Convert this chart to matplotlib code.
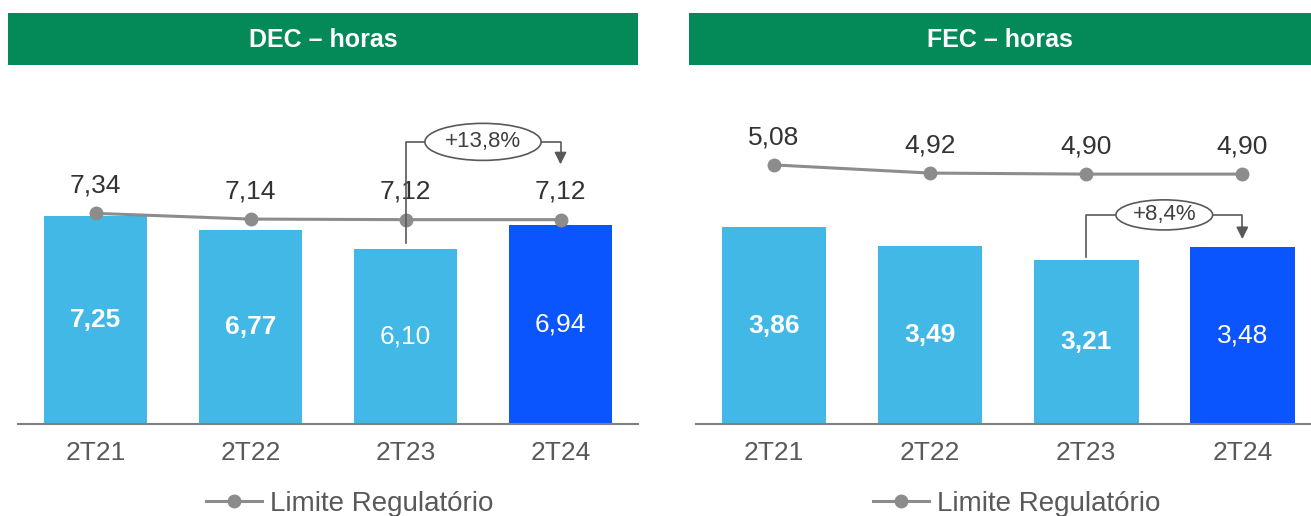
#!/usr/bin/env python3

import matplotlib
matplotlib.use('agg')
import matplotlib.pyplot as plt
from matplotlib.patches import Rectangle, Ellipse

plt.rcParams['font.family'] = ['Liberation Sans', 'DejaVu Sans']

periods = ["2T21", "2T22", "2T23", "2T24"]

dec_values = [7.25, 6.77, 6.10, 6.94]
dec_limit = [7.34, 7.14, 7.12, 7.12]
dec_bold = [True, True, False, False]
dec_change = "+13,8%"

fec_values = [3.86, 3.49, 3.21, 3.48]
fec_limit = [5.08, 4.92, 4.90, 4.90]
fec_bold = [True, True, True, False]
fec_change = "+8,4%"

W, H = 1311, 516
GREEN = '#038a58'
LIGHT = '#41b8e6'
DARK = '#0a55fd'
LINE = '#8c8c8c'
TXT = '#595959'


def fmt(v):
    return f"{v:.2f}".replace('.', ',')


def px(x0, y0, w, h):
    # pixel box (top-left origin) -> figure fraction
    return [x0 / W, (H - y0 - h) / H, w / W, h / H]


def header(fig, x0, w, title):
    fig.add_artist(Rectangle((x0 / W, (H - 65) / H), w / W, 52 / H,
                             transform=fig.transFigure, color=GREEN, lw=0))
    fig.text((x0 + w / 2) / W, (H - 40) / H, title, color='white',
             fontsize=18, fontweight='bold', ha='center', va='center')


def panel(fig, rect, xmax, ymax, values, limit, bold, change, ann, legend_x):
    ax = fig.add_axes(rect)
    x = list(range(len(periods)))
    colors = [LIGHT] * (len(values) - 1) + [DARK]
    ax.bar(x, values, width=0.67, color=colors, zorder=1)

    for i, v in enumerate(values):
        ax.text(i, v / 2, fmt(v), color='white', fontsize=19, ha='center', va='center',
                fontweight='bold' if bold[i] else 'normal', zorder=3)

    line, = ax.plot(x, limit, color=LINE, lw=2.2, marker='o', markersize=9,
                    label='Limite Regulatório', zorder=2)
    for i, v in enumerate(limit):
        ax.annotate(fmt(v), (i, v), xytext=(0, 15), textcoords='offset points',
                    ha='center', va='baseline', fontsize=19, color='#333333')

    # change bracket between the last two periods
    y_top, y_start, y_tip, ew, eh = ann
    ax.plot([2, 2, 2.5 - ew / 2], [y_start, y_top, y_top], color=TXT, lw=1.2, zorder=4)
    ax.plot([2.5 + ew / 2, 3, 3], [y_top, y_top, y_tip + 0.3], color=TXT, lw=1.2, zorder=4)
    ax.annotate('', xy=(3, y_tip), xytext=(3, y_tip + 0.35),
                arrowprops=dict(arrowstyle='-|>', color=TXT, lw=1.2, mutation_scale=18))
    ax.add_patch(Ellipse((2.5, y_top), ew, eh, facecolor='white', edgecolor=TXT, lw=1.2, zorder=5))
    ax.text(2.5, y_top, change, ha='center', va='center', fontsize=16, color='#404040', zorder=6)

    ax.set_xlim(-0.5, xmax)
    ax.set_ylim(0, ymax)
    ax.set_xticks(x)
    ax.set_xticklabels(periods, fontsize=19, color=TXT)
    ax.tick_params(axis='x', length=0, pad=12)
    ax.set_yticks([])
    for s in ['top', 'left', 'right']:
        ax.spines[s].set_visible(False)
    ax.spines['bottom'].set_color('#808080')
    ax.spines['bottom'].set_linewidth(1.5)

    ax.legend(handles=[line], loc='center', bbox_to_anchor=(legend_x / W, 12 / H),
              bbox_transform=fig.transFigure, frameon=False, fontsize=20,
              handlelength=2.0, handletextpad=0.3, labelcolor=TXT)
    return ax


def main():
    fig = plt.figure(figsize=(W / 100, H / 100), dpi=100)

    header(fig, 8, 630, "DEC – horas")
    header(fig, 689, 622, "FEC – horas")

    panel(fig, px(18, 80, 620, 344), 3.5, 344 / 28.7,
          dec_values, dec_limit, dec_bold, dec_change,
          (9.83, 6.31, 8.95, 0.75, 1.29), 350)
    panel(fig, px(696, 80, 615, 344), 3.44, 344 / 51.0,
          fec_values, fec_limit, fec_bold, fec_change,
          (4.10, 3.27, 3.57, 0.62, 0.59), 1017)

    fig.savefig("out.png", dpi=100)
    plt.close("all")


if __name__ == "__main__":
    main()
